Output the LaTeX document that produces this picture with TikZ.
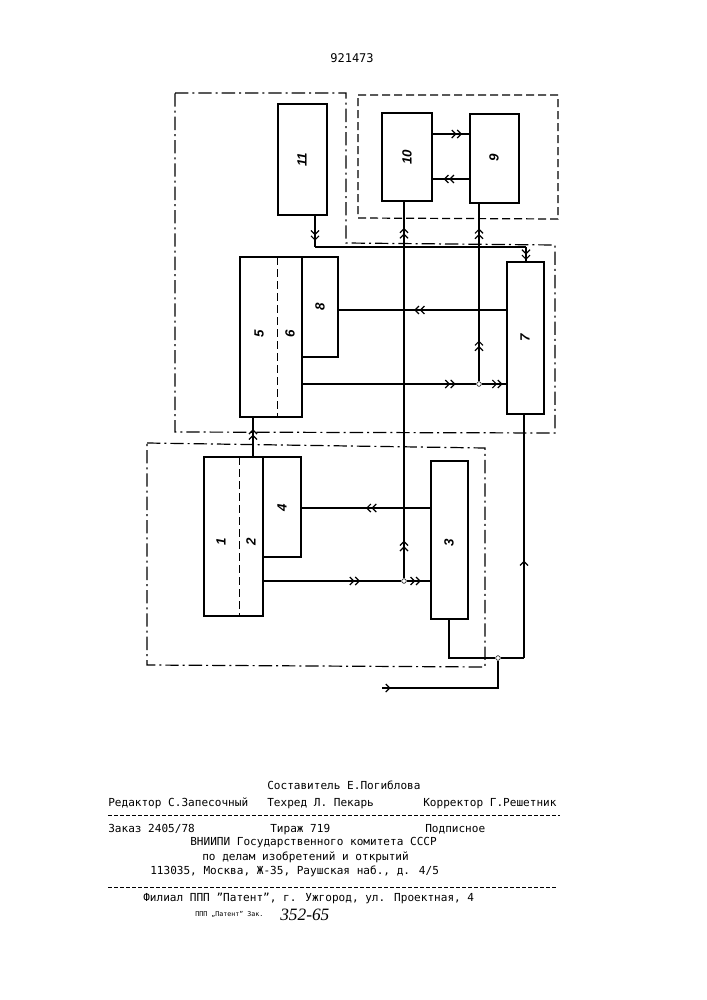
\documentclass[tikz,border=0pt]{standalone}
\usepackage{fontspec}
\setmainfont{DejaVu Sans Mono}
\newfontfamily\hand{Liberation Serif}
\newfontfamily\lab{Liberation Sans}
\usetikzlibrary{arrows.meta,decorations.markings,fit}
\tikzset{
  ln/.style={line width=0.9pt},
  blk/.style={draw,line width=0.9pt,inner sep=0pt},
  num/.style={font=\lab\itshape\bfseries\fontsize{10}{10}\selectfont,rotate=90},
  dar/.style={postaction={decorate,decoration={markings,mark=at position #1 with {\arrow{Straight Barb[length=3pt,width=6pt]Straight Barb[length=3pt,width=6pt]}}}}},
  sar/.style={postaction={decorate,decoration={markings,mark=at position #1 with {\arrow{Straight Barb[length=3pt,width=6pt]}}}}},
  dashdot/.style={line width=0.9pt,dash pattern=on 10pt off 3pt on 1.5pt off 3pt},
  dsh/.style={line width=0.9pt,dash pattern=on 6pt off 3pt},
  txt/.style={anchor=base west,inner sep=0pt,font=\fontsize{8.3}{9}\selectfont},
  dj/.style={circle,draw,fill=white,inner sep=0pt,minimum size=3.5pt}
}
\newcommand{\blkbox}[5]{\path (#2,#3) coordinate (#1-a) (#4,#5) coordinate (#1-b);
  \node[blk,fit=(#1-a)(#1-b)] (#1) {};}
\begin{document}
\begin{tikzpicture}[x=0.75pt,y=-0.75pt]
\useasboundingbox (0,0) rectangle (707,1000);
\node[anchor=base,inner sep=0pt,font=\fontsize{9}{9}\selectfont] (title) at (352,62) {921473};
% enclosures
\draw[dashdot] (175,93) -- (346,93) -- (346,243) -- (555,245) -- (555,433) -- (175,432) -- cycle;
\draw[dsh] (358,95) -- (558,95) -- (558,219) -- (358,218) -- cycle;
\draw[dashdot] (147,443) -- (485,448) -- (485,667) -- (147,665) -- cycle;
% blocks
\blkbox{b11}{278}{104}{327}{215}
\blkbox{b10}{382}{113}{432}{201}
\blkbox{b9}{470}{114}{519}{203}
\blkbox{b56}{240}{257}{302}{417}
\blkbox{b8}{302}{257}{338}{357}
\blkbox{b7}{507}{262}{544}{414}
\blkbox{b12}{204}{457}{263}{616}
\blkbox{b4}{263}{457}{301}{557}
\blkbox{b3}{431}{461}{468}{619}
\draw[dsh,line width=0.7pt] (277,257) -- (277,417);
\draw[dsh,line width=0.7pt] (239,457) -- (239,616);
% labels
\node[num] at (302,160) {11};
\node[num] at (407,157) {10};
\node[num] at (494,158) {9};
\node[num] at (259,334) {5};
\node[num] at (290,334) {6};
\node[num] at (320,307) {8};
\node[num] at (525,338) {7};
\node[num] at (221,542) {1};
\node[num] at (251,542) {2};
\node[num] at (282,508) {4};
\node[num] at (449,543) {3};
% junctions
\node[dj] (j1) at (479,384) {};
\node[dj] (j2) at (404,581) {};
\node[dj] (j3) at (498,658) {};
\coordinate (c11) at (315,247);
\coordinate (c7t) at (526,247);
\coordinate (c3b) at (449,658);
\coordinate (c7b) at (524,658);
\coordinate (in) at (382,688);
\coordinate (inb) at (498,688);
% connectors
\draw[ln,dar=0.8] (b10.east |- 0,134) -- (b9.west |- 0,134);
\draw[ln,dar=0.7] (b9.west |- 0,179) -- (b10.east |- 0,179);
\draw[ln,dar=0.8] (b11.south -| c11) -- (c11);
\draw[ln] (c11) -- (c7t);
\draw[ln,dar=0.9] (c7t) -- (c7t |- b7.north);
\draw[ln,dar=0.55] (b7.west |- 0,310) -- (b8.east |- 0,310);
\draw[ln,dar=0.88] (b56.east |- j1) -- (j1);
\draw[ln,dar=0.85] (j1) -- (b7.west |- j1);
\draw[ln,dar=0.23,dar=0.86] (j1) -- (j1 |- b9.south);
\draw[ln,dar=0.1,dar=0.93] (j2) -- (j2 |- b10.south);
\draw[ln,dar=0.7] (b12.east |- j2) -- (j2);
\draw[ln,dar=0.6] (j2) -- (b3.west |- j2);
\draw[ln,dar=0.5] (b3.west |- 0,508) -- (b4.east |- 0,508);
\draw[ln,dar=0.7] (b12.north -| 253,0) -- (b56.south -| 253,0);
\draw[ln] (b3.south -| c3b) -- (c3b) -- (j3);
\draw[ln] (j3) -- (c7b);
\draw[ln,sar=0.4] (c7b) -- (c7b |- b7.south);
\draw[ln,sar=0.06] (in) -- (inb) -- (j3);
% footer
\node[txt] (t1) at (267,789) {Составитель Е.Погиблова};
\node[txt] (t2) at (108,806) {Редактор С.Запесочный};
\node[txt] (t3) at (267,806) {Техред Л. Пекарь};
\node[txt] (t4) at (423,806) {Корректор Г.Решетник};
\draw[line width=0.6pt,dash pattern=on 3pt off 1.5pt] (108,815) -- (560,815);
\node[txt] (t5) at (108,832) {Заказ 2405/78};
\node[txt] (t6) at (270,832) {Тираж 719};
\node[txt] (t7) at (425,832) {Подписное};
\node[txt] (t8) at (190,845) {ВНИИПИ Государственного комитета СССР};
\node[txt] (t9) at (202,860) {по делам изобретений и открытий};
\node[txt] (t10) at (150,874) {113035, Москва, Ж-35, Раушская наб., д. 4/5};
\draw[line width=0.6pt,dash pattern=on 3pt off 1.5pt] (108,887) -- (557,887);
\node[txt] (t11) at (143,901) {Филиал ППП "Патент", г. Ужгород, ул. Проектная, 4};
\node[txt,font=\fontsize{5}{6}\selectfont] (t12) at (195,916) {ППП „Патент" Зак.};
\node[txt,font=\hand\itshape\fontsize{13}{13}\selectfont] (t13) at (280,920) {352-65};
\end{tikzpicture}
\end{document}
